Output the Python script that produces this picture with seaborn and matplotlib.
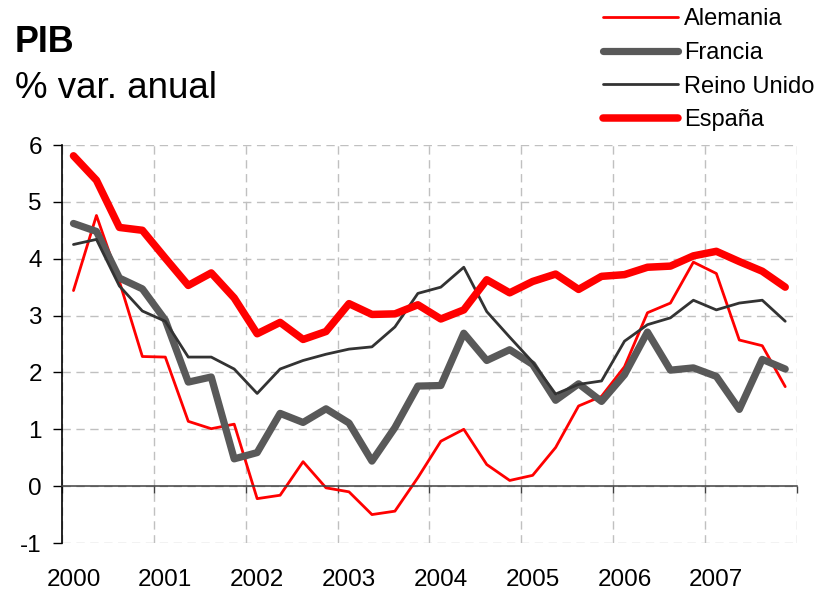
import numpy as np
import pandas as pd
import matplotlib
matplotlib.use("Agg")
import matplotlib.pyplot as plt
import seaborn as sns

# ---------------- data ----------------
anios = ["2000", "2001", "2002", "2003", "2004", "2005", "2006", "2007"]
trimestres = [f"{a}T{q}" for a in anios for q in range(1, 5)]

alemania = [3.44, 4.76, 3.60, 2.28, 2.27, 1.14, 1.01, 1.09,
            -0.22, -0.16, 0.43, -0.03, -0.10, -0.50, -0.44, 0.15,
            0.79, 1.00, 0.38, 0.10, 0.19, 0.68, 1.41, 1.58,
            2.10, 3.05, 3.22, 3.94, 3.74, 2.57, 2.47, 1.75]
francia = [4.62, 4.48, 3.66, 3.47, 2.92, 1.83, 1.92, 0.48,
           0.59, 1.28, 1.12, 1.36, 1.11, 0.44, 1.03, 1.76,
           1.77, 2.69, 2.21, 2.40, 2.14, 1.51, 1.80, 1.49,
           1.96, 2.71, 2.04, 2.08, 1.93, 1.35, 2.23, 2.06]
reino_unido = [4.25, 4.34, 3.52, 3.08, 2.90, 2.27, 2.27, 2.06,
               1.63, 2.06, 2.21, 2.32, 2.41, 2.45, 2.80, 3.39,
               3.50, 3.85, 3.07, 2.62, 2.18, 1.62, 1.79, 1.85,
               2.55, 2.84, 2.96, 3.27, 3.10, 3.22, 3.27, 2.90]
espana = [5.81, 5.38, 4.55, 4.50, 4.01, 3.53, 3.75, 3.31,
          2.68, 2.88, 2.58, 2.72, 3.21, 3.02, 3.03, 3.19,
          2.94, 3.10, 3.63, 3.40, 3.60, 3.73, 3.46, 3.69,
          3.72, 3.85, 3.87, 4.05, 4.13, 3.95, 3.78, 3.50]

series = {"Alemania": alemania, "Francia": francia,
          "Reino Unido": reino_unido, "España": espana}
estilos = {"Alemania": ("#FF0000", 2.0),
           "Francia": ("#595959", 5.2),
           "Reino Unido": ("#333333", 2.0),
           "España": ("#FF0000", 5.4)}

pos = np.arange(len(trimestres)) + 0.5
df = pd.concat([pd.DataFrame({"pos": pos, "trimestre": trimestres,
                              "valor": v, "pais": k})
                for k, v in series.items()], ignore_index=True)

# ---------------- style ----------------
sns.set_style("white")
plt.rcParams["font.family"] = ["Liberation Sans", "DejaVu Sans"]
plt.rcParams["text.color"] = "black"
plt.rcParams["xtick.color"] = "black"
plt.rcParams["ytick.color"] = "black"
plt.rcParams["axes.labelcolor"] = "black"

W, H = 819, 592
fig = plt.figure(figsize=(W / 100, H / 100), dpi=100)
ax = fig.add_axes([62 / W, 1 - 543 / H, (796.7 - 62) / W, (543 - 145) / H])

for pais in series:
    color, lw = estilos[pais]
    sns.lineplot(data=df[df["pais"] == pais], x="pos", y="valor", ax=ax,
                 color=color, linewidth=lw, label=pais,
                 solid_capstyle="round", solid_joinstyle="round", legend=False)

ax.set_xlim(0, len(trimestres))
ax.set_ylim(-1, 6)
ax.set_xlabel("")
ax.set_ylabel("")

# y axis
ax.set_yticks(range(-1, 7))
ax.set_yticklabels([str(v) for v in range(-1, 7)], fontsize=17.5)
ax.tick_params(axis="y", direction="out", length=6.5, width=1, pad=8,
               color="black", labelcolor="black", left=True)

# x axis: spine at zero with year ticks, labels at bottom
ax.spines["bottom"].set_position(("data", 0))
ax.spines["bottom"].set_color("#404040")
ax.spines["bottom"].set_linewidth(1.1)
ax.set_xticks(np.arange(0, len(trimestres) + 1, 4))
ax.tick_params(axis="x", direction="out", length=5, width=1,
               color="#404040", bottom=True, labelbottom=False)

sec = ax.secondary_xaxis(0)
sec.set_xticks(pos[::4])
sec.set_xticklabels(anios, fontsize=17.5, color="black")
sec.tick_params(axis="x", length=0, pad=19)
sec.spines["bottom"].set_visible(False)

ax.spines["left"].set_color("black")
ax.spines["left"].set_linewidth(1.2)
ax.spines["top"].set_visible(False)
ax.spines["right"].set_visible(False)

ax.grid(True, axis="both", color="#C0C0C0", linestyle=(0, (6, 4)),
        linewidth=1.0)
ax.set_axisbelow(True)

# titles
fig.text(15 / W, 1 - 52 / H, "PIB", fontsize=25.8, fontweight="bold",
         va="baseline", ha="left", color="black")
fig.text(15 / W, 1 - 98 / H, "% var. anual", fontsize=26.5,
         va="baseline", ha="left", color="black")

# legend
handles, labels = ax.get_legend_handles_labels()
fig.legend(handles, labels, loc="upper left",
           bbox_to_anchor=(603 / W, 1 - 8 / H), frameon=False,
           fontsize=17, handlelength=3.18, handletextpad=0.25,
           labelspacing=0.5, borderpad=0, borderaxespad=0)

fig.savefig("out.png", dpi=100)
